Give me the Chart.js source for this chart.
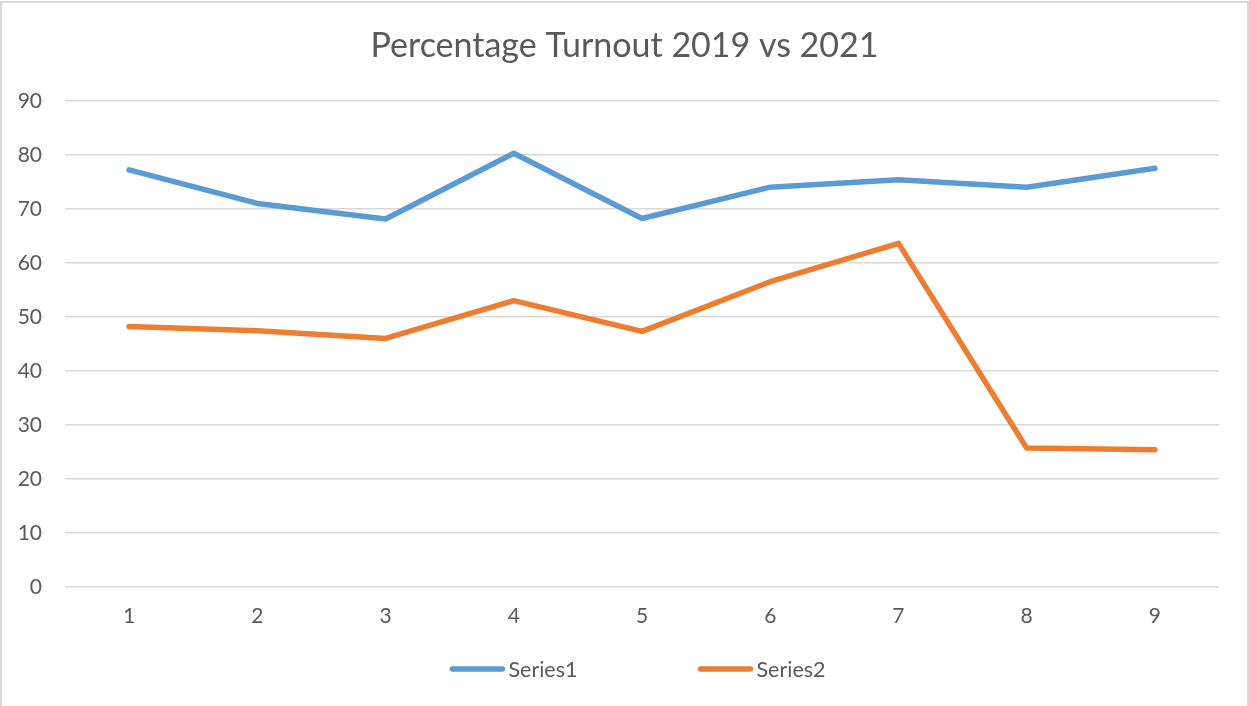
<!DOCTYPE html>
<html>
<head>
<meta charset="utf-8">
<script src="https://cdn.jsdelivr.net/npm/chart.js@4/dist/chart.umd.min.js"></script>
<style>
  html, body { margin: 0; padding: 0; background: #ffffff; }
  #wrap { position: relative; width: 1249px; height: 706px; }
  canvas { display: block; }
</style>
</head>
<body>
<div id="wrap"><canvas id="c" width="1249" height="706"></canvas></div>
<script>
const categories = ['1', '2', '3', '4', '5', '6', '7', '8', '9'];
const series1 = [77.2, 71.0, 68.1, 80.3, 68.2, 74.0, 75.4, 74.0, 77.5];
const series2 = [48.2, 47.4, 46.0, 53.0, 47.3, 56.5, 63.6, 25.7, 25.4];
const seriesNames = ['Series1', 'Series2'];
const seriesColors = ['#5B9BD5', '#ED7D31'];
const chartTitle = 'Percentage Turnout 2019 vs 2021';

const FONT = 'Lato, "Open Sans", sans-serif';
const TEXT = '#595959';

const frame = {
  id: 'frame',
  beforeDraw(chart) {
    const ctx = chart.ctx;
    ctx.save();
    ctx.fillStyle = '#d9d9d9';
    ctx.fillRect(0, 2, 2, chart.height - 2);
    ctx.fillRect(0, 1, chart.width, 2);
    ctx.fillRect(chart.width - 2, 2, 2, chart.height - 2);
    ctx.restore();
  }
};

const bottomLegend = {
  id: 'bottomLegend',
  afterDraw(chart) {
    const ctx = chart.ctx;
    const ds = chart.data.datasets;
    const y = 669;
    const lineLen = 54;
    const gap = 4;
    const itemGap = 121;
    ctx.save();
    ctx.font = '21.5px ' + FONT;
    const widths = ds.map(d => lineLen + gap + ctx.measureText(d.label).width);
    const total = widths.reduce((a, b) => a + b, 0) + itemGap * (ds.length - 1);
    let x = (chart.chartArea.left + chart.chartArea.right) / 2 - 4 - total / 2;
    ds.forEach((d, i) => {
      ctx.strokeStyle = d.borderColor;
      ctx.lineWidth = 5.5;
      ctx.lineCap = 'round';
      ctx.beginPath();
      ctx.moveTo(x + 2, y);
      ctx.lineTo(x + lineLen - 2, y);
      ctx.stroke();
      ctx.fillStyle = TEXT;
      ctx.textBaseline = 'middle';
      ctx.textAlign = 'left';
      ctx.fillText(d.label, x + lineLen + gap, y + 1);
      x += widths[i] + itemGap;
    });
    ctx.restore();
  }
};

new Chart(document.getElementById('c'), {
  type: 'line',
  data: {
    labels: categories,
    datasets: [
      { label: seriesNames[0], data: series1, borderColor: seriesColors[0], backgroundColor: seriesColors[0],
        borderWidth: 5.5, pointRadius: 0, pointHoverRadius: 0, tension: 0, borderCapStyle: 'round', borderJoinStyle: 'round', fill: false },
      { label: seriesNames[1], data: series2, borderColor: seriesColors[1], backgroundColor: seriesColors[1],
        borderWidth: 5.5, pointRadius: 0, pointHoverRadius: 0, tension: 0, borderCapStyle: 'round', borderJoinStyle: 'round', fill: false }
    ]
  },
  options: {
    responsive: false,
    animation: false,
    events: [],
    layout: { padding: { left: 0, right: 0, top: 0, bottom: 60 } },
    plugins: {
      legend: { display: false },
      tooltip: { enabled: false },
      title: {
        display: true,
        text: chartTitle,
        color: TEXT,
        font: { family: FONT, size: 34, weight: 'normal' },
        padding: { top: 26, bottom: 34 }
      }
    },
    scales: {
      x: {
        offset: true,
        grid: { display: false, drawTicks: false },
        border: { display: false },
        ticks: { color: TEXT, font: { family: FONT, size: 21 }, padding: 17, maxRotation: 0 }
      },
      y: {
        min: 0, max: 90,
        afterFit(scale) { scale.width = 65; },
        grid: { color: '#d9d9d9', lineWidth: 1.5, drawTicks: false },
        border: { display: false },
        ticks: { stepSize: 10, color: TEXT, font: { family: FONT, size: 21 }, padding: 23 }
      },
      yRight: {
        position: 'right',
        min: 0, max: 90,
        afterFit(scale) { scale.width = 30; },
        grid: { display: false, drawTicks: false },
        border: { display: false },
        ticks: { display: false }
      }
    }
  },
  plugins: [frame, bottomLegend]
});
</script>
</body>
</html>
